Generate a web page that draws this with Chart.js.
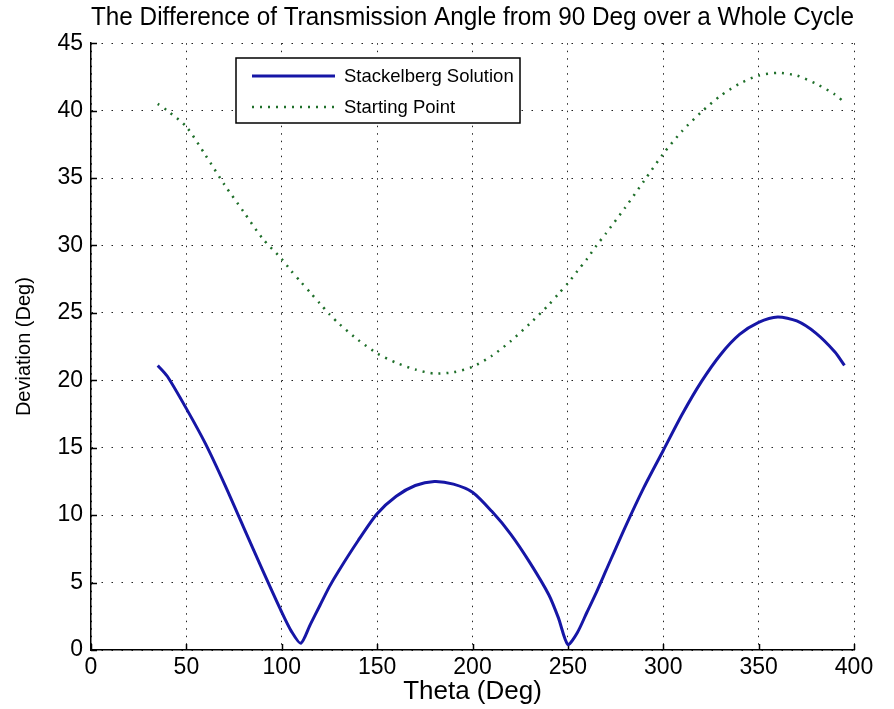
<!DOCTYPE html>
<html>
<head>
<meta charset="utf-8">
<script src="https://cdn.jsdelivr.net/npm/chart.js@4.4.0/dist/chart.umd.min.js"></script>
<style>
  html, body { margin: 0; padding: 0; background: #fff; }
</style>
</head>
<body>
<canvas id="chart" width="894" height="709"></canvas>
<script>
const theta = [35, 40, 50, 60, 70, 80, 90, 100, 105, 110, 115, 120, 125, 130, 140, 150, 160, 170, 180, 190,
  200, 210, 220, 230, 240, 245, 250, 255, 260, 265, 270, 280, 290, 300, 310, 320, 330, 340, 350, 360,
  370, 380, 390, 395];

// Stackelberg Solution deviation (deg)
const stackelberg = [21.1, 20.3, 17.9, 15.3, 12.3, 9.1, 5.9, 2.8, 1.4, 0.5, 1.9, 3.3, 4.7, 5.9, 8.1, 10.1, 11.4, 12.2, 12.5, 12.3,
  11.7, 10.3, 8.6, 6.5, 4.1, 2.4, 0.4, 1.3, 2.8, 4.3, 5.9, 9.1, 12.1, 14.8, 17.5, 19.9, 21.9, 23.4, 24.3, 24.7,
  24.4, 23.5, 22.1, 21.1];

// Starting Point deviation (deg)
const startingPoint = [40.5, 40.0, 38.8, 36.7, 34.5, 32.5, 30.5, 29.0, 28.1, 27.3, 26.5, 25.7, 24.9, 24.2, 23.0, 22.0, 21.3, 20.8, 20.5, 20.6,
  21.0, 21.8, 22.9, 24.2, 25.6, 26.4, 27.2, 28.1, 29.0, 30.0, 30.9, 32.8, 34.8, 36.8, 38.5, 39.9, 41.1, 42.0, 42.6, 42.8,
  42.6, 42.0, 41.2, 40.6];

const xTicks = [0, 50, 100, 150, 200, 250, 300, 350, 400];
const yTicks = [0, 5, 10, 15, 20, 25, 30, 35, 40, 45];

const seriesNames = ['Stackelberg Solution', 'Starting Point'];

const toPoints = (xs, ys) => xs.map((x, i) => ({ x: x, y: ys[i] }));

// small tick marks pointing into the plot, like matlab
const innerTicks = {
  id: 'innerTicks',
  beforeDatasetsDraw(chart) {
    const { ctx, chartArea, scales } = chart;
    ctx.save();
    ctx.strokeStyle = '#000';
    ctx.lineWidth = 1.5;
    ctx.beginPath();
    xTicks.forEach(v => {
      const px = Math.round(scales.x.getPixelForValue(v)) + 0.5;
      ctx.moveTo(px, chartArea.bottom);
      ctx.lineTo(px, chartArea.bottom - 6);
    });
    yTicks.forEach(v => {
      const py = Math.round(scales.y.getPixelForValue(v)) + 0.5;
      ctx.moveTo(chartArea.left, py);
      ctx.lineTo(chartArea.left + 6, py);
    });
    ctx.stroke();
    ctx.restore();
  }
};

// boxed legend inside the axes
const boxLegend = {
  id: 'boxLegend',
  afterDraw(chart) {
    const { ctx } = chart;
    const x = 236, y = 58, w = 284, h = 65;
    ctx.save();
    ctx.fillStyle = '#fff';
    ctx.fillRect(x, y, w, h);
    ctx.strokeStyle = '#000';
    ctx.lineWidth = 1.5;
    ctx.strokeRect(x, y, w, h);
    ctx.font = '18.5px "Liberation Sans", Arial, sans-serif';
    ctx.textBaseline = 'middle';
    chart.data.datasets.forEach((ds, i) => {
      const ry = y + 18 + i * 31;
      ctx.strokeStyle = ds.borderColor;
      ctx.lineWidth = ds.borderWidth;
      ctx.setLineDash(ds.borderDash || []);
      ctx.beginPath();
      ctx.moveTo(x + 16, ry);
      ctx.lineTo(x + 99, ry);
      ctx.stroke();
      ctx.setLineDash([]);
      ctx.fillStyle = '#000';
      ctx.fillText(ds.label, x + 108, ry + 1);
    });
    ctx.restore();
  }
};

const tickFont = { family: '"Liberation Sans", Arial, sans-serif', size: 23 };

new Chart(document.getElementById('chart'), {
  type: 'scatter',
  data: {
    datasets: [
      {
        label: seriesNames[0],
        data: toPoints(theta, stackelberg),
        showLine: true,
        borderColor: '#1616a6',
        borderWidth: 3,
        pointRadius: 0,
        tension: 0.25,
        fill: false
      },
      {
        label: seriesNames[1],
        data: toPoints(theta, startingPoint),
        showLine: true,
        borderColor: '#1f6f2a',
        borderWidth: 2.5,
        borderDash: [2, 6],
        pointRadius: 0,
        tension: 0.25,
        fill: false
      }
    ]
  },
  options: {
    responsive: false,
    animation: false,
    devicePixelRatio: 1,
    layout: { padding: { left: 0, right: 40, top: 0, bottom: 0 } },
    plugins: {
      legend: { display: false },
      tooltip: { enabled: false },
      title: {
        display: true,
        fullSize: false,
        text: 'The Difference of Transmission Angle from 90 Deg over a Whole Cycle',
        color: '#000',
        font: { family: '"Liberation Sans", Arial, sans-serif', size: 26, weight: 'normal' },
        padding: { top: 2, bottom: 10 }
      }
    },
    scales: {
      x: {
        type: 'linear',
        min: 0,
        max: 400,
        afterBuildTicks: s => { s.ticks = xTicks.map(v => ({ value: v })); },
        afterFit: s => { s.height = 59; },
        ticks: { color: '#000', font: tickFont, padding: 4, maxRotation: 0 },
        grid: { color: '#222', lineWidth: 1, drawTicks: false },
        border: { display: true, color: '#000', width: 1.5, dash: [1.5, 6] },
        title: {
          display: true,
          text: 'Theta (Deg)',
          color: '#000',
          font: { family: '"Liberation Sans", Arial, sans-serif', size: 26 },
          padding: { top: 0, bottom: 2 }
        }
      },
      y: {
        type: 'linear',
        min: 0,
        max: 45,
        afterBuildTicks: s => { s.ticks = yTicks.map(v => ({ value: v })); },
        afterFit: s => { s.width = 91; },
        ticks: { color: '#000', font: tickFont, padding: 8 },
        grid: { color: '#222', lineWidth: 1, drawTicks: false },
        border: { display: true, color: '#000', width: 1.5, dash: [1.5, 8.5] },
        title: {
          display: true,
          text: 'Deviation (Deg)',
          color: '#000',
          font: { family: '"Liberation Sans", Arial, sans-serif', size: 20 },
          padding: { top: 12, bottom: 0 }
        }
      }
    }
  },
  plugins: [innerTicks, boxLegend]
});
</script>
</body>
</html>
